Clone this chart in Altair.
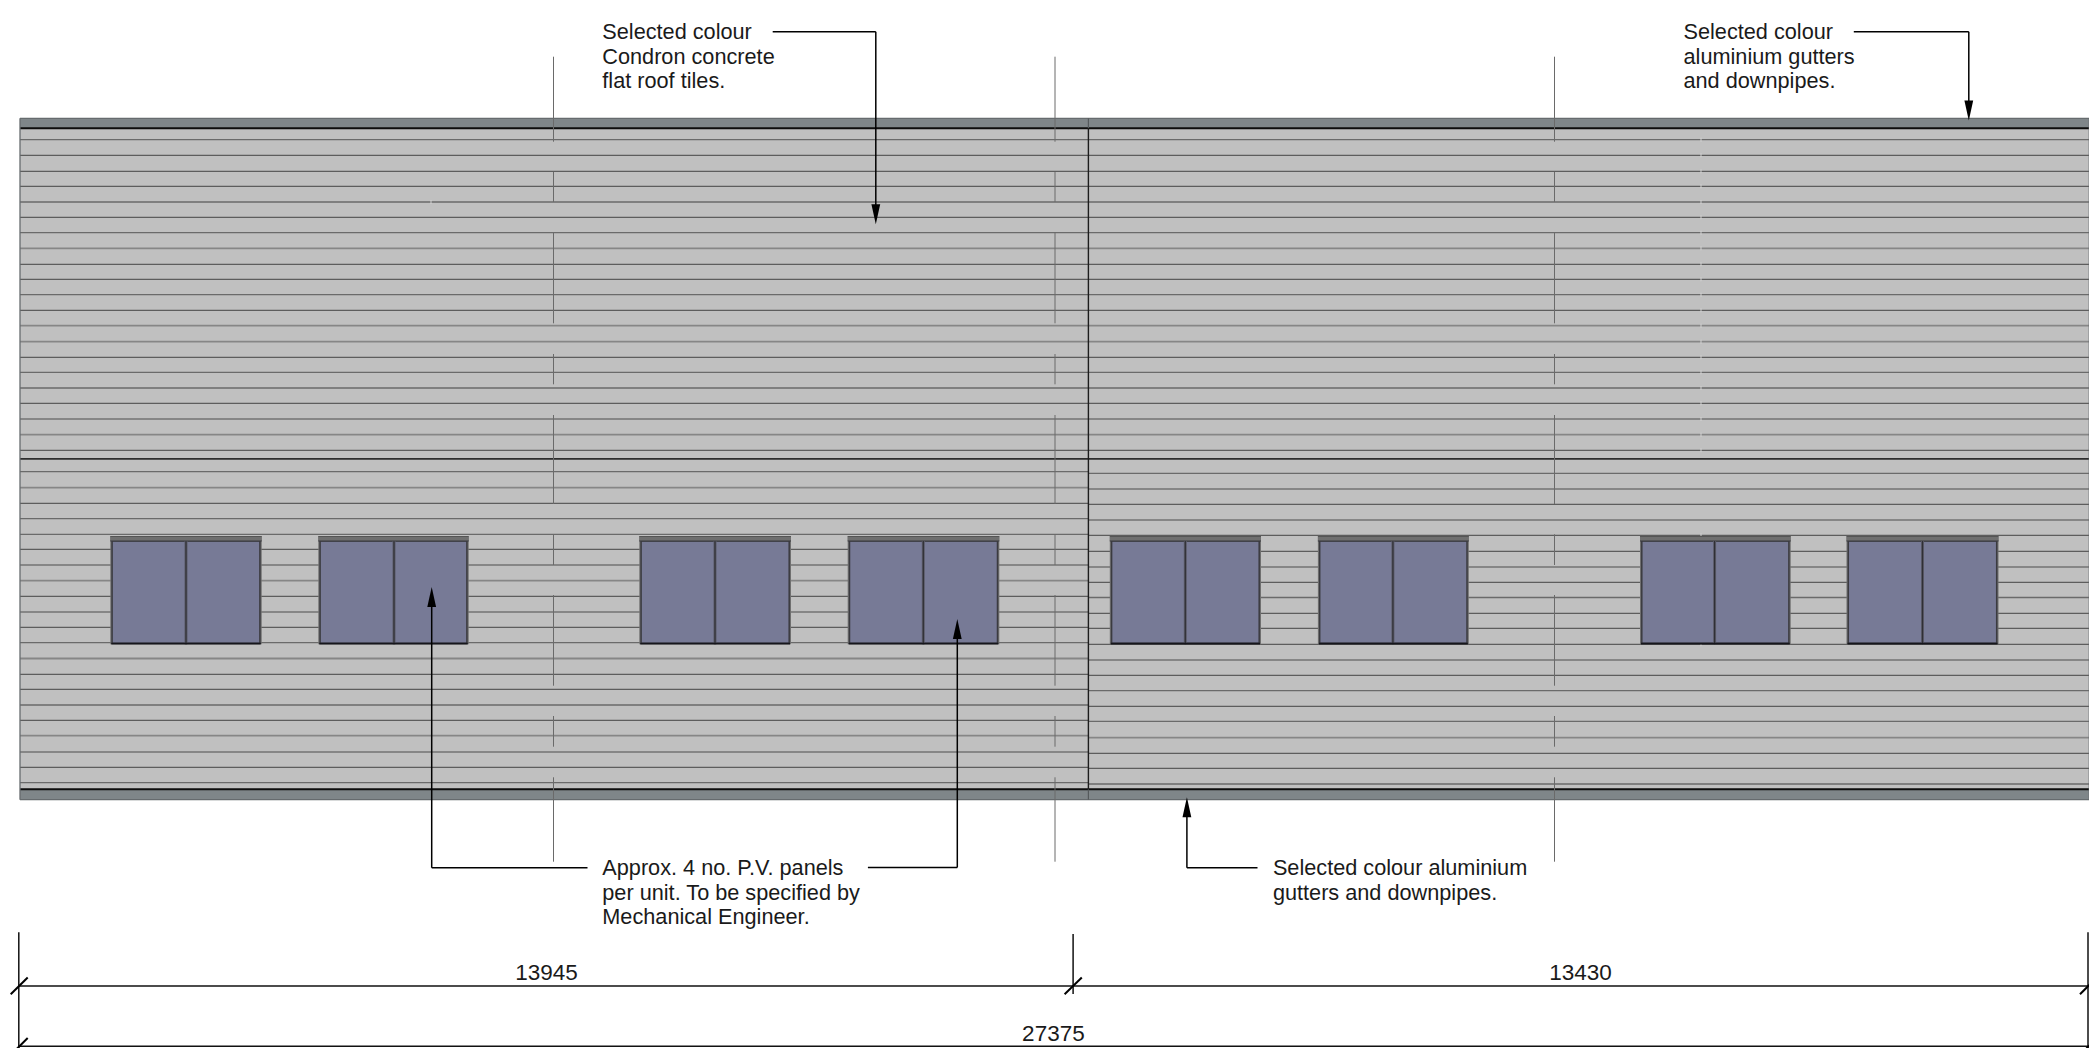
import altair as alt
import pandas as pd

FONT = "Liberation Sans"
X_DOMAIN = [8, 2089]
Y_DOMAIN = [1048, 8]

BUILDING = (20, 2089.3, 118.3, 799.7)
WALL_X = 1088.4
RIDGE_Y = 458.8

# Tile courses: d = dark thin, m = medium, g = grey wide
COURSES_UPPER = [
    (139.7, "m"), (155.3, "d"), (171.3, "d"), (186.3, "d"), (202, "m"), (217.3, "d"),
    (232.7, "m"), (248.3, "g"), (264.3, "d"), (279.3, "d"), (294.7, "m"), (310.3, "d"),
    (325.7, "g"), (341.7, "g"), (357.3, "d"), (372.3, "m"), (388, "m"), (403.3, "d"),
    (419, "g"), (434.7, "g"), (450.3, "d"),
]
COURSES_LOWER_LEFT = [
    (471.7, "m"), (487.7, "g"), (503.3, "d"), (518.7, "m"), (534.3, "m"), (549.3, "d"),
    (565, "g"), (580.7, "g"), (596.3, "d"), (612, "g"), (627.3, "d"), (642.7, "m"),
    (658.5, "g"), (674.3, "d"), (689.3, "d"), (705, "m"), (720.3, "d"), (735.7, "g"),
    (752, "g"), (767.3, "d"), (782.7, "m"),
]
COURSES_LOWER_RIGHT = [
    (473.3, "m"), (489, "g"), (504.3, "d"), (520, "g"), (535.3, "d"), (551.3, "d"),
    (567, "g"), (582.3, "d"), (597.5, "m"), (613.3, "d"), (628.3, "d"), (644.3, "d"),
    (660, "g"), (675.3, "d"), (690.7, "m"), (706.3, "d"), (721.3, "m"), (737.7, "g"),
    (753.3, "d"), (768.3, "d"), (784, "m"),
]

CENTRE_XS = [553.5, 1055, 1554.5]
CENTRE_SEGMENTS = [
    (56.7, 141.7), (172, 202), (232.7, 323.3), (354, 384.3), (415, 504),
    (534.3, 565), (595, 685.7), (716, 746.7), (777.3, 861.7),
]

# left, mullion, right
WINDOWS = [
    (110.3, 186, 261.7), (318.3, 394, 468.7), (639.3, 715, 791), (847.7, 923.3, 999.3),
    (1109.8, 1185.3, 1261), (1317.9, 1392.9, 1468.8), (1640, 1714.6, 1790.7), (1846.5, 1922.5, 1998.5),
]
WIN_TOP, WIN_HEAD, WIN_BOTTOM = 536.5, 541, 644.2

# Leaders: polyline segments (x, y, x2, y2)
LEADERS = [
    (772.7, 31.7, 875.8, 31.7), (875.8, 31.7, 875.8, 206),
    (1853.8, 31.7, 1968.8, 31.7), (1968.8, 31.7, 1968.8, 101),
    (431.7, 606, 431.7, 867.7), (431.7, 867.7, 587.5, 867.7),
    (867.9, 867.5, 957.3, 867.5), (957.3, 867.5, 957.3, 638),
    (1186.9, 816, 1186.9, 867.7), (1186.9, 867.7, 1257.5, 867.7),
]
ARROWS_DOWN = [(875.8, 214.3), (1968.8, 110.5)]
ARROWS_UP = [(431.7, 597), (957.3, 629), (1186.9, 807.3)]

# Dimension strings
DIM_LINES = [(18.8, 986, 2088, 986), (18.8, 1046.3, 2088, 1046.3)]
EXT_LINES = [(18.8, 932.3, 18.8, 1056), (1073.1, 934, 1073.1, 994), (2088, 932.3, 2088, 1056)]
TICKS = [
    (10.7, 994.3, 27.7, 977.5), (1064.6, 994.3, 1081.8, 977.5), (2080, 994.3, 2096.7, 977.5),
    (10.7, 1055, 27.7, 1038), (2080, 1055, 2096.7, 1038),
]

TEXTS = [
    (602.3, 39.2, "Selected colour"), (602.3, 63.5, "Condron concrete"), (602.3, 88.2, "flat roof tiles."),
    (1683.5, 39.2, "Selected colour"), (1683.5, 63.5, "aluminium gutters"), (1683.5, 88.2, "and downpipes."),
    (602.3, 875, "Approx. 4 no. P.V. panels"), (602.3, 899.5, "per unit. To be specified by"),
    (602.3, 924, "Mechanical Engineer."),
    (1272.9, 875, "Selected colour aluminium"), (1272.9, 899.5, "gutters and downpipes."),
]
DIM_TEXTS = [(546.5, 980, "13945"), (1580.6, 980, "13430"), (1053.4, 1041.3, "27375")]

xs = alt.Scale(domain=X_DOMAIN, nice=False, zero=False)
ys = alt.Scale(domain=Y_DOMAIN, nice=False, zero=False)


def X(f="x"):
    return alt.X(f"{f}:Q", scale=xs, axis=None)


def Y(f="y"):
    return alt.Y(f"{f}:Q", scale=ys, axis=None)


def rules(segs, color, width, **kw):
    df = pd.DataFrame(segs, columns=["x", "y", "x2", "y2"])
    return alt.Chart(df).mark_rule(color=color, strokeWidth=width, **kw).encode(
        x=X(), y=Y(), x2="x2:Q", y2="y2:Q")


def rects(segs, **kw):
    df = pd.DataFrame(segs, columns=["x", "y", "x2", "y2"])
    return alt.Chart(df).mark_rect(**kw).encode(x=X(), y=Y(), x2="x2:Q", y2="y2:Q")


L, R, T, B = BUILDING
layers = []
# wall and gutters
layers.append(rects([(L, T, R, B)], color="#c0c0c0"))
layers.append(rects([(L, T, R, 128.3), (L, 789.3, R, B)], color="#7f8689"))

STYLE = {"d": ("#444444", 1.0), "m": ("#6a6a6a", 1.3), "g": ("#868686", 1.8)}
for key, (col, w) in STYLE.items():
    segs = [(L, y, R, y) for y, k in COURSES_UPPER if k == key]
    segs += [(L, y, WALL_X, y) for y, k in COURSES_LOWER_LEFT if k == key]
    segs += [(WALL_X, y, R, y) for y, k in COURSES_LOWER_RIGHT if k == key]
    layers.append(rules(segs, col, w))

# small breaks in the courses
breaks = [(1701, y - 2, 1701, y + 2) for y, _ in COURSES_UPPER] + [(1701, 535.3 - 2, 1701, 535.3 + 2),
                                                                  (1701, 644.3 - 2, 1701, 644.3 + 2),
                                                                  (431, 200, 431, 204)]
layers.append(rules(breaks, "#d2d2d2", 1))

layers.append(rules([(L, RIDGE_Y, R, RIDGE_Y)], "#2d2d2d", 1.8))
layers.append(rules([(L, 128.3, R, 128.3), (L, 789.3, R, 789.3)], "#0d0d0d", 2))
layers.append(rules([(L, T, R, T), (L, B, R, B), (L, T, L, B), (R, T, R, B)], "#666b6e", 1.3))
layers.append(rules([(WALL_X, T, WALL_X, 128.3), (WALL_X, 789.3, WALL_X, B)], "#555a5c", 1.2))
layers.append(rules([(WALL_X, 128.3, WALL_X, 789.3)], "#1c1c1c", 1.4))

# centre lines
layers.append(rules([(x, a, x, b) for x in CENTRE_XS for a, b in CENTRE_SEGMENTS], "#6a6a6a", 1))

# windows
layers.append(rects([(a, WIN_TOP, c, WIN_BOTTOM) for a, _, c in WINDOWS], color="#6f6f6f"))
layers.append(rects([(a + 1.8, WIN_HEAD, c - 1.8, WIN_BOTTOM - 1) for a, _, c in WINDOWS],
                    color="#777a96", stroke="#3b3b40", strokeWidth=1.5))
layers.append(rects([(a, WIN_TOP, c, WIN_HEAD) for a, _, c in WINDOWS], color="#6f6f6f"))
layers.append(rules([(a, WIN_TOP, c, WIN_TOP) for a, _, c in WINDOWS], "#555555", 1))
layers.append(rules([(a, WIN_HEAD, c, WIN_HEAD) for a, _, c in WINDOWS], "#3b3b40", 1))
layers.append(rules([(m, WIN_HEAD, m, WIN_BOTTOM) for _, m, _ in WINDOWS], "#5b5b68", 3))
layers.append(rules([(m, WIN_HEAD, m, WIN_BOTTOM) for _, m, _ in WINDOWS], "#2f2f35", 1.2))
layers.append(rules([(a + 1, WIN_BOTTOM - 0.6, c - 1, WIN_BOTTOM - 0.6) for a, _, c in WINDOWS], "#16161c", 1.6))

# leaders and arrowheads
layers.append(rules(LEADERS, "#000000", 1.5))
for pts, shape in ((ARROWS_DOWN, "M0,0.5L0.22,-0.5L-0.22,-0.5Z"), (ARROWS_UP, "M0,-0.5L0.22,0.5L-0.22,0.5Z")):
    df = pd.DataFrame(pts, columns=["x", "y"])
    layers.append(alt.Chart(df).mark_point(shape=shape, filled=True, size=1600, color="#000000",
                                           opacity=1, strokeWidth=0).encode(x=X(), y=Y()))

# dimensions
layers.append(rules(DIM_LINES, "#111111", 1.5))
layers.append(rules(EXT_LINES, "#111111", 1.5))
layers.append(rules(TICKS, "#000000", 2))

layers.append(alt.Chart(pd.DataFrame(TEXTS, columns=["x", "y", "t"])).mark_text(
    font=FONT, fontSize=21.7, align="left", baseline="alphabetic", color="#1a1a1a"
).encode(x=X(), y=Y(), text="t:N"))
layers.append(alt.Chart(pd.DataFrame(DIM_TEXTS, columns=["x", "y", "t"])).mark_text(
    font=FONT, fontSize=22.5, align="center", baseline="alphabetic", color="#1a1a1a"
).encode(x=X(), y=Y(), text="t:N"))

chart = alt.layer(*layers).properties(
    width=2081, height=1040, padding=0, autosize=alt.AutoSizeParams(type="none"), background="#ffffff"
).configure_view(strokeWidth=0)

chart.save("out.html", embed_options={"renderer": "svg", "actions": False})
